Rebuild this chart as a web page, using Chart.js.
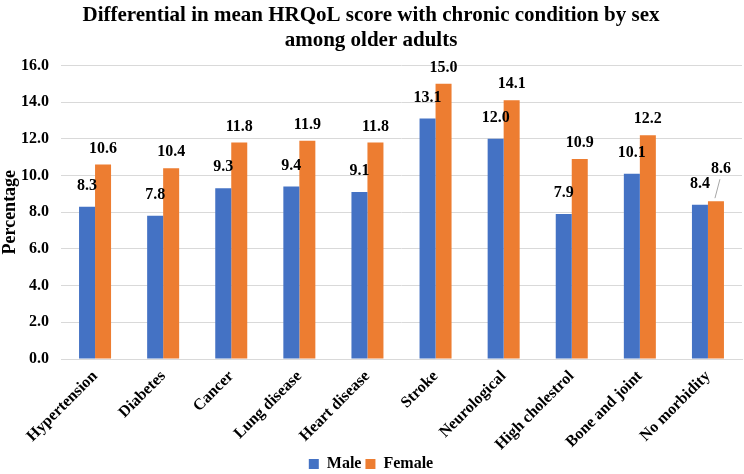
<!DOCTYPE html>
<html>
<head>
<meta charset="utf-8">
<script src="https://cdn.jsdelivr.net/npm/chart.js@4"></script>
<style>
  html, body { margin: 0; padding: 0; background: #fff; }
  #wrap { width: 744px; height: 474px; }
</style>
</head>
<body>
<div id="wrap"><canvas id="chart"></canvas></div>
<script>
// categories and values
const conditions = ['Hypertension', 'Diabetes', 'Cancer', 'Lung disease', 'Heart disease',
  'Stroke', 'Neurological', 'High cholestrol', 'Bone and joint', 'No morbidity'];
const maleValues = [8.3, 7.8, 9.3, 9.4, 9.1, 13.1, 12.0, 7.9, 10.1, 8.4];
const femaleValues = [10.6, 10.4, 11.8, 11.9, 11.8, 15.0, 14.1, 10.9, 12.2, 8.6];
const yTicks = [0, 2, 4, 6, 8, 10, 12, 14, 16];

const serif = '"Liberation Serif", "Times New Roman", serif';

// labels above bars (like excel data labels)
const barLabels = {
  id: 'barLabels',
  afterDatasetsDraw(chart) {
    const ctx = chart.ctx;
    ctx.save();
    ctx.font = 'bold 16px ' + serif;
    ctx.fillStyle = '#000';
    ctx.textAlign = 'center';
    ctx.textBaseline = 'middle';
    chart.data.datasets.forEach((ds, di) => {
      const meta = chart.getDatasetMeta(di);
      meta.data.forEach((bar, i) => {
        let x = bar.x, y = bar.y - (di === 0 ? 21 : 16);
        // last female label was pulled up with a leader line
        if (di === 1 && i === ds.data.length - 1) {
          x = bar.x + 5;
          y = bar.y - 32;
          ctx.strokeStyle = '#a6a6a6';
          ctx.lineWidth = 1;
          ctx.beginPath();
          ctx.moveTo(bar.x - 1, bar.y - 3);
          ctx.lineTo(x - 1, y + 10);
          ctx.stroke();
        }
        ctx.fillText(ds.data[i].toFixed(1), x, y);
      });
    });
    ctx.restore();
  }
};

new Chart(document.getElementById('chart'), {
  type: 'bar',
  data: {
    labels: conditions,
    datasets: [
      { label: 'Male', data: maleValues, backgroundColor: '#4472c4' },
      { label: 'Female', data: femaleValues, backgroundColor: '#ed7d31' }
    ]
  },
  options: {
    responsive: true,
    maintainAspectRatio: false,
    animation: false,
    layout: { padding: { left: 0, right: 2, top: 3, bottom: -8 } },
    datasets: { bar: { categoryPercentage: 0.47, barPercentage: 1.0 } },
    plugins: {
      title: {
        display: true,
        text: ['Differential in mean HRQoL score with chronic condition by sex', 'among older adults'],
        color: '#000',
        font: { family: serif, size: 21, weight: 'bold', lineHeight: 1.2 },
        padding: { top: 0, bottom: 12 }
      },
      legend: {
        position: 'bottom',
        labels: {
          color: '#000',
          boxWidth: 10,
          boxHeight: 10,
          font: { family: serif, size: 16, weight: 'bold' },
          padding: 4
        }
      },
      tooltip: { enabled: false }
    },
    scales: {
      x: {
        grid: { display: false },
        border: { color: '#d9d9d9' },
        afterFit(axis) {
          axis.height = 93;
        },
        ticks: {
          color: '#000',
          minRotation: 45,
          maxRotation: 45,
          padding: 0,
          font: { family: serif, size: 16, weight: 'bold' }
        }
      },
      y: {
        min: 0,
        max: 16,
        afterBuildTicks(axis) {
          axis.ticks = yTicks.map(v => ({ value: v }));
        },
        afterFit(axis) {
          axis.width = 61;
        },
        grid: { color: '#d9d9d9', drawTicks: false },
        border: { display: false },
        ticks: {
          color: '#000',
          padding: 12,
          font: { family: serif, size: 16, weight: 'bold' },
          callback: v => Number(v).toFixed(1)
        },
        title: {
          display: true,
          text: 'Percentage',
          color: '#000',
          font: { family: serif, size: 18, weight: 'bold' },
          padding: { top: 0, bottom: 0 }
        }
      }
    }
  },
  plugins: [barLabels]
});
</script>
</body>
</html>
